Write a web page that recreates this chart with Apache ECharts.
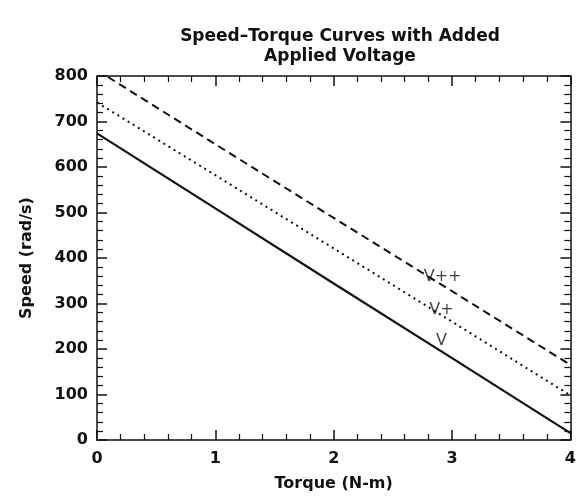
<!DOCTYPE html>
<html>
<head>
<meta charset="utf-8">
<script src="https://cdn.jsdelivr.net/npm/echarts@6/dist/echarts.min.js"></script>
<style>
  html, body { margin: 0; padding: 0; background: #fff; }
  #chart { width: 579px; height: 497px; }
</style>
</head>
<body>
<div id="chart"></div>
<script>
// torque (N-m) and speed (rad/s)
const torque = [0, 1, 2, 3, 4]
const speedV = [674, 509, 344, 180, 15]
const speedVPlus = [742, 582, 421, 260, 98]
const speedVPlusPlus = [813, 650, 488, 327, 165]
// curve labels: [torque, speed, text]
const curveLabels = [
  [2.92, 359, 'V++'],
  [2.91, 287, 'V+'],
  [2.91, 218, 'V']
]

const font = 'DejaVu Sans, Verdana, sans-serif'
const ink = '#111'

const pairs = (ys) => torque.map((t, i) => [t, ys[i]])

const axisCommon = {
  type: 'value',
  axisLine: {show: true, onZero: false, lineStyle: {color: ink, width: 1.5}},
  axisTick: {show: true, inside: true, length: 10, lineStyle: {color: ink, width: 1.5}},
  minorTick: {show: true, splitNumber: 5, length: 6, lineStyle: {color: ink, width: 1.2}},
  splitLine: {show: false}
}

const chart = echarts.init(document.getElementById('chart'))
chart.setOption({
  animation: false,
  backgroundColor: '#fff',
  title: {
    text: 'Speed\u2013Torque Curves with Added\nApplied Voltage',
    left: 335,
    top: 22,
    textAlign: 'center',
    textStyle: {fontFamily: font, fontSize: 17, fontWeight: 'bold', color: ink, lineHeight: 20}
  },
  grid: {left: 97, right: 6, top: 76, bottom: 54},
  xAxis: [
    {
      ...axisCommon,
      min: 0, max: 4, interval: 1,
      position: 'bottom',
      name: 'Torque (N-m)',
      nameLocation: 'middle',
      nameGap: 36,
      nameTextStyle: {fontFamily: font, fontSize: 16, fontWeight: 'bold', color: ink},
      axisLabel: {fontFamily: font, fontSize: 16, fontWeight: 'bold', color: ink, margin: 11}
    },
    {
      ...axisCommon,
      min: 0, max: 4, interval: 1,
      position: 'top',
      axisLabel: {show: false}
    }
  ],
  yAxis: [
    {
      ...axisCommon,
      min: 0, max: 800, interval: 100,
      position: 'left',
      name: 'Speed (rad/s)',
      nameLocation: 'middle',
      nameGap: 62,
      nameTextStyle: {fontFamily: font, fontSize: 16, fontWeight: 'bold', color: ink},
      axisLabel: {fontFamily: font, fontSize: 16, fontWeight: 'bold', color: ink, margin: 9}
    },
    {
      ...axisCommon,
      min: 0, max: 800, interval: 100,
      position: 'right',
      axisLabel: {show: false}
    }
  ],
  series: [
    {
      name: 'V',
      type: 'line',
      data: pairs(speedV),
      showSymbol: false,
      lineStyle: {color: ink, width: 2.2, type: 'solid'}
    },
    {
      name: 'V+',
      type: 'line',
      data: pairs(speedVPlus),
      showSymbol: false,
      lineStyle: {color: ink, width: 2, type: [2, 4]}
    },
    {
      name: 'V++',
      type: 'line',
      data: pairs(speedVPlusPlus),
      showSymbol: false,
      clip: true,
      lineStyle: {color: ink, width: 2, type: [8, 5]}
    },
    {
      type: 'scatter',
      data: curveLabels,
      symbolSize: 0,
      label: {
        show: true,
        position: 'inside',
        formatter: (p) => p.data[2],
        fontFamily: font,
        fontSize: 16,
        color: ink
      }
    }
  ]
})
</script>
</body>
</html>
